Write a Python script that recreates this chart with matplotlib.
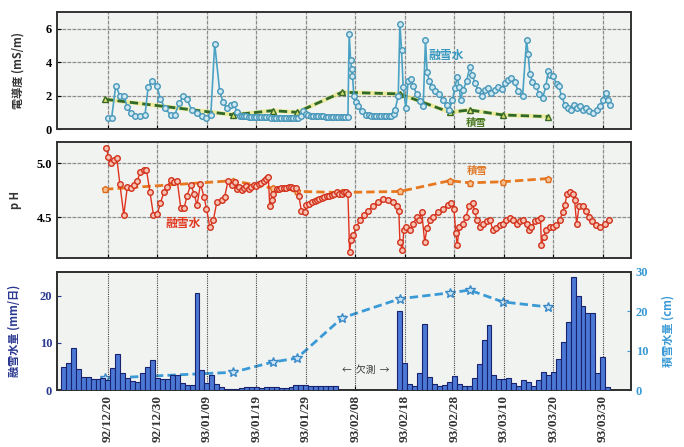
import numpy as np
import pandas as pd
import matplotlib
matplotlib.use('Agg')
import matplotlib.pyplot as plt
import matplotlib.dates as mdates
from matplotlib.ticker import FormatStrFormatter

plt.rcParams['font.family'] = ['Noto Sans CJK JP', 'DejaVu Sans']

# ---- data (times as 'MM/DD HH', Dec = 1992, others = 1993) ----
snow_t = ['12/19 10', '01/14 07', '01/22 07', '01/27 05', '02/05 07',
          '02/17 00', '02/27 02', '03/03 02', '03/09 19', '03/19 00']
snow_cond = [1.78, 0.85, 1.1, 1.0, 2.2, 2.1, 1.0, 1.14, 0.84, 0.74]
snow_ph = [4.76, 4.84, 4.77, 4.74, 4.73, 4.74, 4.84, 4.82, 4.83, 4.86]
snow_swe = [3.0, 4.5, 7.1, 8.1, 18.3, 23.2, 24.7, 25.4, 22.4, 21.1]

cond_t = ['12/20 00', '12/20 18', '12/21 14', '12/22 10', '12/23 05', '12/23 22', '12/24 14', '12/25 11', '12/26 12', '12/27 12',
          '12/28 03', '12/29 00', '12/29 20', '12/30 15', '12/31 12', '01/01 16', '01/02 12', '01/03 10', '01/04 05', '01/04 22',
          '01/05 22', '01/06 22', '01/07 22', '01/08 22', '01/09 19', '01/10 14', '01/11 14', '01/12 07', '01/13 00', '01/13 19',
          '01/14 12', '01/15 02', '01/15 17',
          '01/16 00', '01/16 12', '01/17 00', '01/17 12', '01/18 00', '01/18 12', '01/19 00', '01/19 12', '01/20 00', '01/20 12',
          '01/21 00', '01/21 12', '01/22 00', '01/22 12', '01/23 00', '01/23 12', '01/24 00', '01/24 12', '01/25 00', '01/25 12',
          '01/26 00', '01/26 12', '01/27 00', '01/27 12', '01/28 00', '01/28 12', '01/29 00', '01/29 12', '01/30 00', '01/30 12',
          '01/31 00', '01/31 12', '02/01 00', '02/01 12', '02/02 00', '02/02 12', '02/03 00', '02/03 12', '02/04 00', '02/04 12',
          '02/05 00', '02/05 12', '02/06 00', '02/06 12',
          '02/06 18', '02/07 01', '02/07 06', '02/07 10', '02/07 17', '02/08 02', '02/08 14', '02/09 06', '02/10 06',
          '02/10 18', '02/11 06', '02/11 18', '02/12 06', '02/12 18', '02/13 06', '02/13 18', '02/14 06', '02/14 18', '02/15 06',
          '02/15 18', '02/16 00', '02/16 16',
          '02/17 00', '02/17 08', '02/17 16', '02/18 05', '02/18 16', '02/19 04', '02/19 16', '02/20 09', '02/21 01', '02/21 17',
          '02/22 04', '02/22 12', '02/22 22', '02/23 10', '02/24 01', '02/24 22', '02/25 18', '02/26 10', '02/26 23', '02/27 15',
          '02/28 02', '02/28 14', '03/01 00', '03/01 06', '03/01 19', '03/02 11', '03/03 03', '03/03 16', '03/04 03', '03/04 19',
          '03/05 12', '03/06 04', '03/06 20', '03/07 12', '03/08 04', '03/08 20', '03/09 13', '03/10 05', '03/10 21', '03/11 13',
          '03/12 05', '03/12 21', '03/13 19', '03/14 14', '03/14 22', '03/15 06', '03/15 19', '03/16 11', '03/17 03', '03/17 20',
          '03/18 12', '03/18 23', '03/19 10', '03/19 23', '03/20 16', '03/21 04', '03/21 16', '03/22 08', '03/23 00', '03/23 16',
          '03/24 03', '03/24 17', '03/25 08', '03/25 22', '03/26 14', '03/27 06', '03/28 01', '03/28 18', '03/29 09', '03/30 01',
          '03/30 14', '03/31 02', '03/31 10']
cond_v = [0.66, 0.66, 2.6, 2.0, 2.0, 1.3, 0.95, 0.8, 0.8, 0.85,
          2.5, 2.9, 2.6, 1.8, 1.25, 0.85, 0.85, 1.55, 1.95, 1.8,
          1.15, 0.95, 0.75, 0.65, 0.85, 5.1, 2.25, 1.6, 1.25, 1.45,
          1.5, 1.0, 0.8,
          0.78, 0.76, 0.75, 0.74, 0.74, 0.73, 0.72, 0.72, 0.71, 0.70,
          0.70, 0.69, 0.68, 0.68, 0.67, 0.66, 0.66, 0.65, 0.65, 0.65,
          0.64, 0.64, 0.65, 0.66, 0.80, 1.05, 0.90, 0.82, 0.80, 0.78,
          0.77, 0.76, 0.75, 0.75, 0.74, 0.74, 0.73, 0.73, 0.72, 0.72,
          0.72, 0.71, 0.71, 0.72,
          5.7, 4.1, 3.6, 3.2, 1.95, 1.6, 1.35, 1.05, 0.85,
          0.82, 0.80, 0.78, 0.77, 0.76, 0.76, 0.76, 0.77, 0.78, 0.80,
          0.9, 1.15, 1.95,
          6.3, 4.7, 2.5, 1.25, 2.9, 3.0, 2.6, 2.1, 1.7, 1.35,
          5.3, 3.4, 2.9, 2.5, 2.3, 2.1, 1.75, 1.45, 1.15, 1.75,
          2.45, 3.1, 2.5, 1.75, 2.35, 2.85, 3.7, 3.25, 2.75, 2.35,
          1.95, 2.35, 2.45, 2.15, 2.35, 2.5, 2.4, 2.75, 2.95, 3.05,
          2.8, 2.3, 1.95, 5.3, 4.5, 3.3, 2.8, 2.6, 2.1, 1.85,
          2.55, 3.45, 3.25, 3.15, 2.7, 2.55, 1.95, 1.45, 1.25, 1.15,
          1.45, 1.25, 1.35, 1.15, 1.25, 1.05, 0.95, 1.15, 1.35, 1.75,
          2.15, 1.75, 1.45]

ph_t = ['12/19 17', '12/20 02', '12/20 14', '12/21 05', '12/21 19', '12/22 10', '12/23 05', '12/23 22', '12/24 14', '12/25 07',
        '12/25 22', '12/26 14', '12/27 07', '12/27 19', '12/28 12', '12/29 05', '12/30 00', '12/30 14', '12/31 07', '01/01 00',
        '01/01 17', '01/02 07', '01/03 00', '01/03 17', '01/04 10', '01/05 00', '01/05 17', '01/06 10', '01/07 00', '01/07 17',
        '01/08 10', '01/08 22', '01/09 14', '01/10 07', '01/11 00', '01/12 00', '01/12 14', '01/13 07', '01/14 00', '01/14 17',
        '01/15 00', '01/15 12', '01/16 00', '01/16 12', '01/17 00', '01/17 12', '01/18 00', '01/18 12', '01/19 00', '01/19 12',
        '01/20 00', '01/20 12', '01/21 00', '01/21 10',
        '01/21 17', '01/22 02', '01/22 10', '01/23 02', '01/23 14', '01/24 00', '01/24 12', '01/25 00', '01/25 12', '01/26 00',
        '01/26 12', '01/27 02', '01/27 14', '01/28 02', '01/28 19', '01/29 02', '01/29 14', '01/30 05', '01/30 18', '01/31 06',
        '01/31 18', '02/01 06', '02/01 18', '02/02 05', '02/02 18', '02/03 06', '02/03 18', '02/04 05', '02/04 18', '02/05 06',
        '02/05 18', '02/06 05', '02/06 12',
        '02/06 20', '02/07 04', '02/07 14', '02/08 05', '02/08 22', '02/09 17', '02/10 14', '02/11 14', '02/12 14', '02/13 14',
        '02/14 14', '02/15 14', '02/16 10', '02/16 19',
        '02/17 00', '02/17 12', '02/17 19', '02/18 07', '02/19 00', '02/19 17', '02/20 10', '02/20 22', '02/21 10', '02/22 00',
        '02/22 12', '02/23 02', '02/23 17', '02/24 17', '02/25 17', '02/26 17', '02/27 10', '02/27 22', '02/28 07', '02/28 14',
        '03/01 00', '03/01 17', '03/02 07', '03/03 00', '03/03 17', '03/04 02', '03/04 14', '03/05 05', '03/05 19', '03/06 12',
        '03/07 05', '03/07 19', '03/08 12', '03/09 05', '03/09 22', '03/10 12', '03/11 05', '03/11 22', '03/12 14', '03/13 05',
        '03/13 22', '03/14 14', '03/15 02', '03/15 14', '03/16 07', '03/16 22', '03/17 10', '03/17 14', '03/18 02', '03/18 14',
        '03/19 07', '03/20 00', '03/20 14', '03/21 07', '03/21 22', '03/22 07', '03/22 19', '03/23 07', '03/24 00', '03/24 07',
        '03/24 17', '03/25 05', '03/25 22', '03/26 14', '03/27 05', '03/27 22', '03/28 17', '03/29 12', '03/30 10', '03/31 07']
ph_v = [5.14, 5.06, 5.00, 5.03, 5.05, 4.81, 4.52, 4.78, 4.77, 4.80,
        4.84, 4.92, 4.935, 4.94, 4.73, 4.52, 4.53, 4.63, 4.73, 4.78,
        4.85, 4.83, 4.84, 4.59, 4.59, 4.70, 4.80, 4.72, 4.61, 4.81,
        4.69, 4.58, 4.41, 4.47, 4.64, 4.66, 4.69, 4.84, 4.80, 4.83,
        4.76, 4.78, 4.75, 4.77, 4.79, 4.76, 4.78, 4.80, 4.79, 4.81,
        4.82, 4.84, 4.86, 4.87,
        4.60, 4.66, 4.72, 4.76, 4.76, 4.77, 4.77, 4.77, 4.78, 4.78,
        4.77, 4.77, 4.70, 4.56, 4.55, 4.61, 4.62, 4.64, 4.65, 4.66,
        4.67, 4.68, 4.69, 4.70, 4.70, 4.71, 4.72, 4.73, 4.72, 4.72,
        4.73, 4.73, 4.72,
        4.18, 4.29, 4.33, 4.41, 4.47, 4.52, 4.56, 4.60, 4.64, 4.67,
        4.66, 4.64, 4.60, 4.56,
        4.27, 4.19, 4.38, 4.41, 4.38, 4.44, 4.50, 4.47, 4.55, 4.27,
        4.40, 4.47, 4.50, 4.55, 4.58, 4.61, 4.63, 4.58, 4.35, 4.24,
        4.41, 4.44, 4.50, 4.60, 4.63, 4.56, 4.47, 4.41, 4.44, 4.46,
        4.47, 4.38, 4.40, 4.43, 4.44, 4.47, 4.49, 4.47, 4.44, 4.46,
        4.47, 4.44, 4.38, 4.41, 4.46, 4.47, 4.49, 4.24, 4.32, 4.38,
        4.41, 4.41, 4.43, 4.47, 4.55, 4.61, 4.72, 4.73, 4.72, 4.66,
        4.44, 4.60, 4.60, 4.56, 4.50, 4.46, 4.43, 4.41, 4.44, 4.47]

# daily melt water (mm/day); no data 02/05 - 02/16
melt1_start, melt1_end = '1992-12-11', '1993-02-04'
melt1 = [4.9, 5.8, 8.8, 4.4, 2.8, 2.8, 2.3, 2.3, 2.5, 2.1,
         4.7, 7.7, 3.7, 2.6, 2.0, 1.8, 3.6, 4.9, 6.3, 2.5, 2.3,
         2.3, 3.2, 3.2, 1.5, 1.1, 1.1, 20.6, 4.2, 1.4, 3.2,
         1.3, 0.6, 0.3, 0.3, 0.3, 0.5, 0.7, 0.7, 0.7, 0.5,
         0.6, 0.6, 0.6, 0.5, 0.5, 0.6, 1.0, 1.1, 1.0, 0.9, 0.8,
         0.8, 0.9, 0.8, 0.8]
melt2_start, melt2_end = '1993-02-17', '1993-03-31'
melt2 = [16.8, 5.7, 1.3, 0.8, 3.7, 14.0, 2.8, 1.3, 0.8, 1.1, 1.6, 3.0,
         1.3, 0.8, 0.8, 2.5, 5.6, 10.5, 13.8, 3.2, 2.3, 2.3,
         2.5, 1.4, 0.8, 2.1, 1.8, 0.8, 2.1, 3.9, 3.2, 3.9,
         6.5, 10.2, 14.4, 23.9, 20.0, 17.9, 16.3, 16.3, 3.7, 7.0, 0.7]

tick_dates = ['1992-12-20', '1992-12-30', '1993-01-09', '1993-01-19', '1993-01-29', '1993-02-08',
              '1993-02-18', '1993-02-28', '1993-03-10', '1993-03-20', '1993-03-30']


def dt(s):
    y = 1992 if s[:2] == '12' else 1993
    return pd.Timestamp(f'{y}-{s[:2]}-{s[3:5]} {s[6:8]}:00')


snow_d = [dt(s) for s in snow_t]
cond_d = [dt(s) for s in cond_t]
ph_d = [dt(s) for s in ph_t]
melt_d = list(pd.date_range(melt1_start, melt1_end)) + list(pd.date_range(melt2_start, melt2_end))
melt_v = melt1 + melt2
ticks = pd.to_datetime(tick_dates)

bg = '#f1f3f1'
num_font = dict(family='Liberation Serif', weight='bold')

fig = plt.figure(figsize=(6.84, 4.47), dpi=100)
ax1 = fig.add_axes([0.0833, 0.7114, 0.839, 0.2617])
ax2 = fig.add_axes([0.0833, 0.4228, 0.839, 0.2595], sharex=ax1)
ax3 = fig.add_axes([0.0833, 0.1275, 0.839, 0.264], sharex=ax1)
ax3r = ax3.twinx()

for ax in (ax1, ax2, ax3, ax3r):
    for sp in ax.spines.values():
        sp.set_linewidth(1.4)
        sp.set_color('#333333')
    ax.tick_params(direction='in', length=3, width=0.8, labelsize=9)

for ax in (ax1, ax2):
    ax.set_facecolor(bg)
    ax.grid(True, color='#8c8c8c', lw=0.9, ls=(0, (3, 1)))
    ax.set_axisbelow(True)

# --- top: conductivity ---
ax1.plot(snow_d, snow_cond, color='#e8e65a', lw=3, alpha=0.55, zorder=2)
ax1.plot(snow_d, snow_cond, color='#2f6a2a', lw=2, ls=(0, (3, 1.5)), marker='^', ms=5,
         mfc='#d8e070', mec='#3a6a2a', mew=1, zorder=3)
ax1.plot(cond_d, cond_v, color='#4aa2c4', lw=1.2, marker='o', ms=4,
         mfc='#cfe8f2', mec='#4596b8', mew=1, zorder=4)
ax1.set_ylim(0, 7)
ax1.set_yticks([0, 2, 4, 6])
ax1.set_ylabel('電導度 (mS/m)', fontsize=8, fontweight='bold', color='#333333')
ax1.yaxis.set_label_coords(-0.056, 0.5)
ax1.text(dt('02/26 06'), 4.4, '融雪水', fontsize=8.5, fontweight='bold', color='#3a98c0',
         ha='center', va='center')
ax1.text(dt('03/04 12'), 0.38, '積雪', fontsize=7.5, fontweight='bold', color='#4a7a20',
         ha='center', va='center')

# --- middle: pH ---
ax2.plot(snow_d, snow_ph, color='#e8781e', lw=2, ls=(0, (3, 1.5)), marker='p', ms=5,
         mfc='#f6c090', mec='#e06a1a', mew=1, zorder=3)
ax2.plot(ph_d, ph_v, color='#e0321e', lw=1.0, marker='o', ms=4,
         mfc='#f7c4b4', mec='#d2301a', mew=1, zorder=4)
ax2.set_ylim(4.12, 5.2)
ax2.set_yticks([4.5, 5.0])
ax2.yaxis.set_major_formatter(FormatStrFormatter('%.1f'))
ax2.set_ylabel('p H', fontsize=8, fontweight='bold', color='#333333')
ax2.yaxis.set_label_coords(-0.061, 0.5)
ax2.text(dt('03/04 16'), 4.93, '積雪', fontsize=7.5, fontweight='bold', color='#e07a28',
         ha='center', va='center')
ax2.text(dt('01/04 05'), 4.44, '融雪水', fontsize=8.5, fontweight='bold', color='#e03a22',
         ha='center', va='center')

# --- bottom: melt water bars + snow water equivalent ---
ax3.set_zorder(ax3r.get_zorder() + 1)
ax3.patch.set_visible(False)
ax3r.patch.set_visible(True)
ax3r.set_facecolor(bg)

ax3.bar(melt_d, melt_v, width=1.0, color='#4b78d4', edgecolor='#18226e', lw=0.8, zorder=3)
for t in ticks:
    ax3.axvline(t, color='#444444', lw=0.8, ls=(0, (1, 1)), zorder=1)
ax3r.plot(snow_d, snow_swe, color='#3a9ad6', lw=2, ls=(0, (3, 1.5)), marker='*', ms=7,
          mfc='#cfe6f6', mec='#3a8ac8', mew=1, zorder=3)
ax3.set_ylim(0, 25)
ax3.set_yticks([0, 10, 20])
ax3r.set_ylim(0, 30)
ax3r.set_yticks([0, 10, 20, 30])
ax3.tick_params(axis='y', colors='#2a3890')
ax3r.tick_params(axis='y', colors='#3a9ad6')
ax3.set_ylabel('融雪水量 (mm/日)', fontsize=8, fontweight='bold', color='#2a3890')
ax3.yaxis.set_label_coords(-0.063, 0.5)
ax3r.set_ylabel('積雪水量 (cm)', fontsize=8, fontweight='bold', color='#3a9ad6')
ax3r.yaxis.set_label_coords(1.054, 0.5)
ax3.text(dt('02/10 02'), 4.2, '←  欠測  →', fontsize=7, color='#333333', ha='center', va='center')

ax1.set_xlim(dt('12/09 17'), dt('04/04 16'))
ax3.set_xticks(ticks)
ax3.xaxis.set_major_formatter(mdates.DateFormatter('%y/%m/%d'))
plt.setp(ax1.get_xticklabels(), visible=False)
plt.setp(ax2.get_xticklabels(), visible=False)
for lab in ax3.get_xticklabels():
    lab.set_rotation(90)
    lab.set_fontsize(9.5)
    lab.set_color('#333333')
    lab.set(**num_font)
for ax in (ax1, ax2, ax3, ax3r):
    for lab in ax.get_yticklabels():
        lab.set(**num_font)

fig.savefig('out.png', dpi=100)
